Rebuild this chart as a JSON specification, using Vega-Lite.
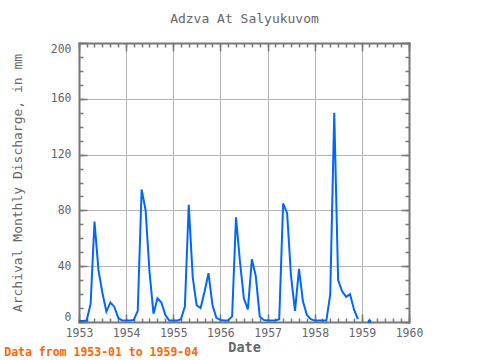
{
  "$schema": "https://vega.github.io/schema/vega-lite/v6.json",
  "width": 330,
  "height": 279,
  "autosize": {"type": "none"},
  "padding": {"left": 79, "top": 43, "right": 71, "bottom": 38},
  "background": "white",
  "title": {
    "text": "Data from 1953-01 to 1959-04",
    "orient": "bottom",
    "anchor": "start",
    "frame": "bounds",
    "color": "#ff6600",
    "font": "DejaVu Sans Mono",
    "fontSize": 11.5,
    "fontWeight": "bold",
    "offset": -7,
    "dx": -7
  },
  "data": {
    "values": [
      {"date": "1953-01-01", "discharge": 0.7},
      {"date": "1953-02-01", "discharge": 0.7},
      {"date": "1953-03-01", "discharge": 1},
      {"date": "1953-04-01", "discharge": 13},
      {"date": "1953-05-01", "discharge": 72},
      {"date": "1953-06-01", "discharge": 37},
      {"date": "1953-07-01", "discharge": 21},
      {"date": "1953-08-01", "discharge": 7.5},
      {"date": "1953-09-01", "discharge": 14},
      {"date": "1953-10-01", "discharge": 11},
      {"date": "1953-11-01", "discharge": 3},
      {"date": "1953-12-01", "discharge": 1},
      {"date": "1954-01-01", "discharge": 1},
      {"date": "1954-02-01", "discharge": 1},
      {"date": "1954-03-01", "discharge": 1.5},
      {"date": "1954-04-01", "discharge": 8},
      {"date": "1954-05-01", "discharge": 95},
      {"date": "1954-06-01", "discharge": 80},
      {"date": "1954-07-01", "discharge": 36},
      {"date": "1954-08-01", "discharge": 6},
      {"date": "1954-09-01", "discharge": 17},
      {"date": "1954-10-01", "discharge": 14},
      {"date": "1954-11-01", "discharge": 5},
      {"date": "1954-12-01", "discharge": 1},
      {"date": "1955-01-01", "discharge": 1},
      {"date": "1955-02-01", "discharge": 1},
      {"date": "1955-03-01", "discharge": 2},
      {"date": "1955-04-01", "discharge": 11},
      {"date": "1955-05-01", "discharge": 84},
      {"date": "1955-06-01", "discharge": 32},
      {"date": "1955-07-01", "discharge": 12},
      {"date": "1955-08-01", "discharge": 10},
      {"date": "1955-09-01", "discharge": 22},
      {"date": "1955-10-01", "discharge": 35},
      {"date": "1955-11-01", "discharge": 12},
      {"date": "1955-12-01", "discharge": 3},
      {"date": "1956-01-01", "discharge": 1.5},
      {"date": "1956-02-01", "discharge": 1},
      {"date": "1956-03-01", "discharge": 1},
      {"date": "1956-04-01", "discharge": 4},
      {"date": "1956-05-01", "discharge": 75},
      {"date": "1956-06-01", "discharge": 43},
      {"date": "1956-07-01", "discharge": 17},
      {"date": "1956-08-01", "discharge": 9},
      {"date": "1956-09-01", "discharge": 45},
      {"date": "1956-10-01", "discharge": 33},
      {"date": "1956-11-01", "discharge": 4},
      {"date": "1956-12-01", "discharge": 1.5},
      {"date": "1957-01-01", "discharge": 1},
      {"date": "1957-02-01", "discharge": 1},
      {"date": "1957-03-01", "discharge": 1},
      {"date": "1957-04-01", "discharge": 2},
      {"date": "1957-05-01", "discharge": 85},
      {"date": "1957-06-01", "discharge": 78},
      {"date": "1957-07-01", "discharge": 33},
      {"date": "1957-08-01", "discharge": 8},
      {"date": "1957-09-01", "discharge": 38},
      {"date": "1957-10-01", "discharge": 15},
      {"date": "1957-11-01", "discharge": 5},
      {"date": "1957-12-01", "discharge": 2},
      {"date": "1958-01-01", "discharge": 1},
      {"date": "1958-02-01", "discharge": 1},
      {"date": "1958-03-01", "discharge": 1},
      {"date": "1958-04-01", "discharge": 1},
      {"date": "1958-05-01", "discharge": 20},
      {"date": "1958-06-01", "discharge": 150},
      {"date": "1958-07-01", "discharge": 30},
      {"date": "1958-08-01", "discharge": 22},
      {"date": "1958-09-01", "discharge": 18},
      {"date": "1958-10-01", "discharge": 20},
      {"date": "1958-11-01", "discharge": 9},
      {"date": "1958-12-01", "discharge": 2},
      {"date": "1959-01-01", "discharge": null},
      {"date": "1959-02-01", "discharge": null},
      {"date": "1959-03-01", "discharge": 0.5},
      {"date": "1959-04-01", "discharge": null}
    ]
  },
  "resolve": {"axis": {"x": "independent", "y": "independent"}},
  "layer": [
    {
      "mark": {"type": "point", "opacity": 0},
      "encoding": {
        "x": {"field": "date", "type": "temporal",
          "scale": {"type": "utc", "domain": [{"year": 1953, "month": 1, "date": 1, "utc": true}, {"year": 1960, "month": 1, "date": 1, "utc": true}]},
          "axis": {"orient": "bottom", "grid": true, "domain": false, "ticks": false, "labels": false, "title": null, "tickCount": {"interval": "year"}}},
        "y": {"field": "discharge", "type": "quantitative", "scale": {"domain": [0, 200], "nice": false},
          "axis": {"orient": "left", "grid": true, "domain": false, "ticks": false, "labels": false, "title": null, "values": [40, 80, 120, 160]}}
      }
    },
    {
      "mark": {"type": "point", "opacity": 0},
      "encoding": {
        "x": {"field": "date", "type": "temporal",
          "axis": {"orient": "bottom", "grid": false, "domain": false, "ticks": true, "tickSize": -4, "labels": false, "title": null, "tickCount": {"interval": "month", "step": 2}}},
        "y": {"field": "discharge", "type": "quantitative",
          "axis": {"orient": "left", "grid": false, "domain": false, "ticks": true, "tickSize": -4, "labels": false, "title": null, "values": [0, 10, 20, 30, 40, 50, 60, 70, 80, 90, 100, 110, 120, 130, 140, 150, 160, 170, 180, 190, 200]}}
      }
    },
    {
      "mark": {"type": "point", "opacity": 0},
      "encoding": {
        "x": {"field": "date", "type": "temporal",
          "axis": {"orient": "top", "grid": false, "domain": false, "ticks": true, "tickSize": -4, "labels": false, "title": null, "tickCount": {"interval": "month", "step": 2}}},
        "y": {"field": "discharge", "type": "quantitative",
          "axis": {"orient": "right", "grid": false, "domain": false, "ticks": true, "tickSize": -4, "labels": false, "title": null, "values": [0, 10, 20, 30, 40, 50, 60, 70, 80, 90, 100, 110, 120, 130, 140, 150, 160, 170, 180, 190, 200]}}
      }
    },
    {
      "mark": {"type": "point", "opacity": 0},
      "encoding": {
        "x": {"field": "date", "type": "temporal",
          "axis": {"orient": "bottom", "grid": false, "domain": false, "ticks": true, "tickSize": -8, "labels": false, "title": null, "tickCount": {"interval": "year"}}},
        "y": {"field": "discharge", "type": "quantitative",
          "axis": {"orient": "left", "grid": false, "domain": false, "ticks": true, "tickSize": -8, "labels": false, "title": null, "values": [0, 40, 80, 120, 160, 200]}}
      }
    },
    {
      "mark": {"type": "point", "opacity": 0},
      "encoding": {
        "x": {"field": "date", "type": "temporal",
          "axis": {"orient": "top", "grid": false, "domain": false, "ticks": true, "tickSize": -8, "labels": false, "title": null, "tickCount": {"interval": "year"}}},
        "y": {"field": "discharge", "type": "quantitative",
          "axis": {"orient": "right", "grid": false, "domain": false, "ticks": true, "tickSize": -8, "labels": false, "title": null, "values": [0, 40, 80, 120, 160, 200]}}
      }
    },
    {
      "mark": {"type": "line", "color": "#0066ff", "strokeWidth": 2, "invalid": "break-paths-show-domains"},
      "encoding": {
        "x": {"field": "date", "type": "temporal",
          "axis": {"orient": "bottom", "grid": false, "domain": true, "ticks": false, "labels": true, "format": "%Y", "tickCount": {"interval": "year"}, "labelFlush": false, "labelOverlap": false, "labelPadding": 5, "title": "Date", "titleFontSize": 13.5, "titleFontWeight": "bold", "titlePadding": 2}},
        "y": {"field": "discharge", "type": "quantitative",
          "axis": {"orient": "left", "grid": false, "domain": true, "ticks": false, "labels": true, "values": [0, 40, 80, 120, 160, 200], "labelFlush": true, "labelPadding": 8, "title": "Archival Monthly Discharge, in mm", "titleFontSize": 13, "titlePadding": 26}}
      }
    },
    {
      "transform": [{"filter": "isValid(datum.discharge) && toDate(datum.date) >= toDate('1959-01-01')"}],
      "mark": {"type": "point", "filled": true, "color": "#0066ff", "size": 14, "opacity": 1},
      "encoding": {
        "x": {"field": "date", "type": "temporal",
          "axis": {"orient": "top", "grid": false, "domain": true, "ticks": false, "labels": false, "title": "Adzva At Salyukuvom", "titleFontSize": 13, "titlePadding": 18}},
        "y": {"field": "discharge", "type": "quantitative",
          "axis": {"orient": "right", "grid": false, "domain": true, "ticks": false, "labels": false, "title": null}}
      }
    }
  ],
  "config": {
    "view": {"stroke": null},
    "axis": {
      "domainColor": "#777777",
      "domainWidth": 2,
      "domainCap": "square",
      "tickColor": "#777777",
      "tickWidth": 1.5,
      "gridColor": "#b4b4b4",
      "gridWidth": 1,
      "labelFont": "DejaVu Sans Mono",
      "labelFontSize": 11.5,
      "labelColor": "#666666",
      "titleFont": "DejaVu Sans Mono",
      "titleColor": "#666666",
      "titleFontWeight": "normal"
    }
  }
}
